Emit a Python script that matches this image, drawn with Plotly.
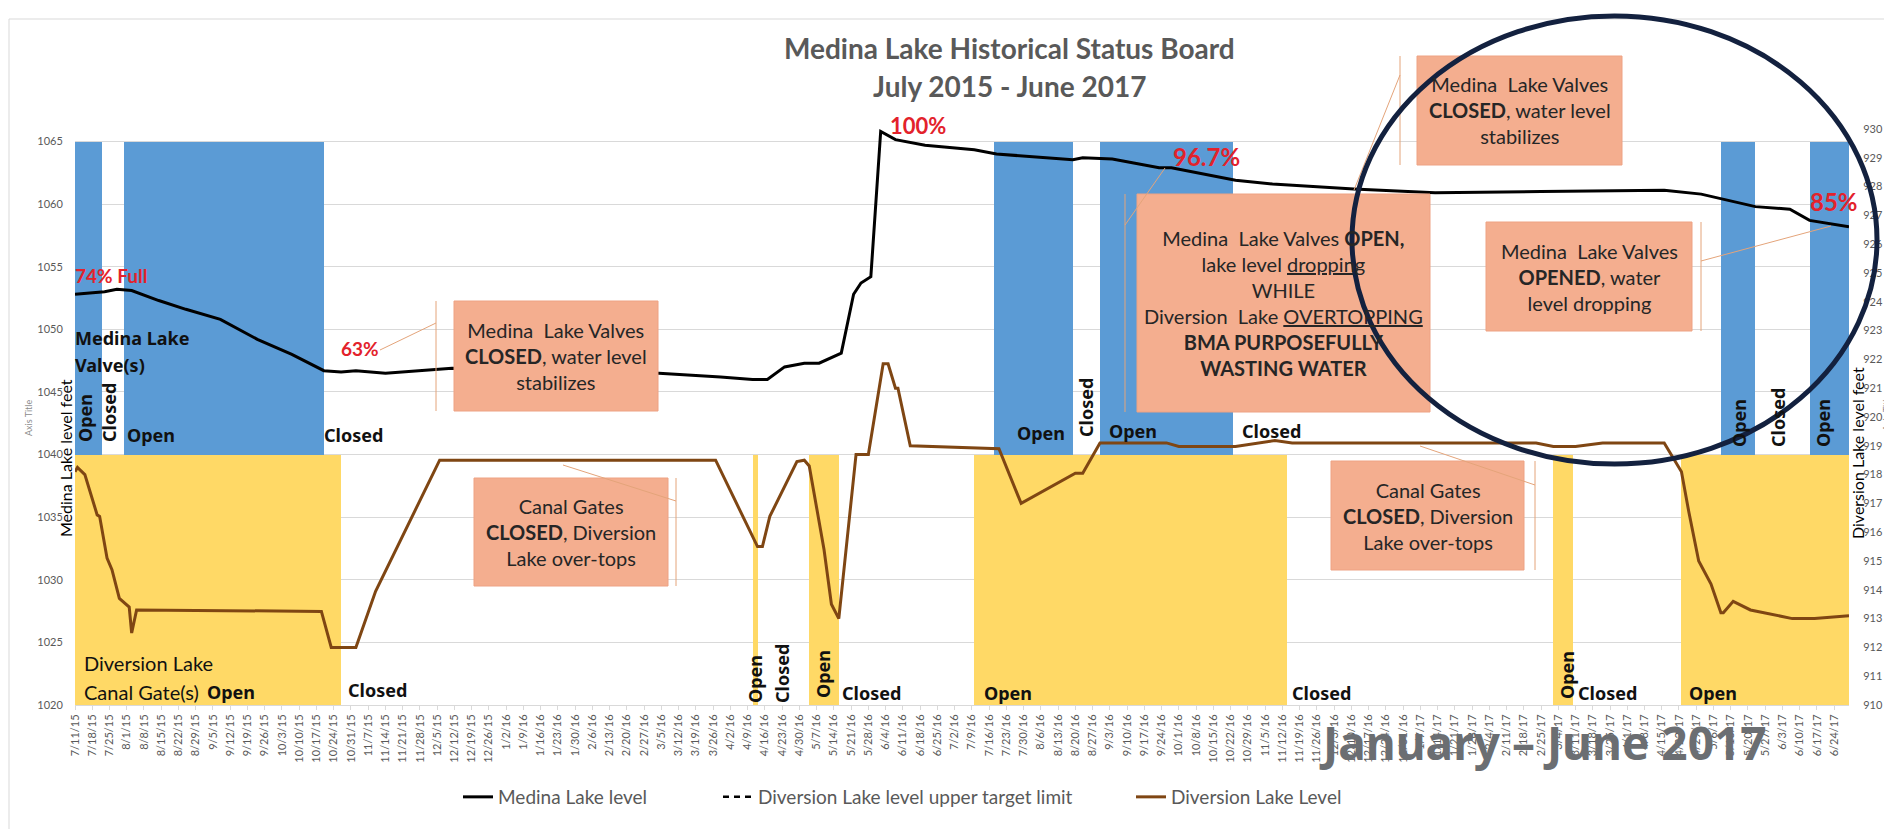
import pandas as pd
import plotly.graph_objects as go

W, H = 1892, 829
L, R, T, B = 67, 51, 121, 132  # plot area spans x 67..1841, y 121..697

# ---- data ----
medina_dates = [
    "2015-07-11", "2015-07-23", "2015-07-28", "2015-08-03", "2015-08-14", "2015-08-25",
    "2015-09-08", "2015-09-23", "2015-10-07", "2015-10-20", "2015-10-27", "2015-11-02",
    "2015-11-14", "2015-12-11", "2016-01-27", "2016-03-04", "2016-03-29", "2016-04-11",
    "2016-04-17", "2016-04-24", "2016-05-02", "2016-05-08", "2016-05-17", "2016-05-22",
    "2016-05-25", "2016-05-29", "2016-06-02", "2016-06-08", "2016-06-20", "2016-07-10",
    "2016-07-19", "2016-08-19", "2016-08-23", "2016-09-04", "2016-09-23", "2016-09-28",
    "2016-10-24", "2016-11-08", "2016-12-11", "2017-01-13", "2017-02-25", "2017-04-16",
    "2017-05-01", "2017-05-23", "2017-06-06", "2017-06-14", "2017-06-30",
]
medina_level = [
    1052.8, 1053.0, 1053.2, 1053.1, 1052.3, 1051.6,
    1050.8, 1049.2, 1048.0, 1046.7, 1046.6, 1046.7,
    1046.5, 1046.9, 1046.7, 1046.5, 1046.2, 1046.0,
    1046.0, 1047.0, 1047.3, 1047.3, 1048.1, 1052.8,
    1053.7, 1054.2, 1065.8, 1065.15, 1064.7, 1064.35,
    1064.0, 1063.55, 1063.7, 1063.6, 1062.9, 1062.9,
    1061.9, 1061.6, 1061.2, 1060.9, 1061.0, 1061.1,
    1060.8, 1059.8, 1059.6, 1058.7, 1058.2,
]

diversion_dates = [
    "2015-07-11", "2015-07-12", "2015-07-15", "2015-07-20", "2015-07-21", "2015-07-24",
    "2015-07-26", "2015-07-29", "2015-08-02", "2015-08-03", "2015-08-05", "2015-10-19",
    "2015-10-23", "2015-11-02", "2015-11-10", "2015-11-16", "2015-12-06", "2016-03-27",
    "2016-04-10", "2016-04-13", "2016-04-15", "2016-04-18", "2016-04-29", "2016-05-02",
    "2016-05-04", "2016-05-10", "2016-05-13", "2016-05-16", "2016-05-23", "2016-05-28",
    "2016-06-03", "2016-06-05", "2016-06-08", "2016-06-09", "2016-06-14", "2016-07-17",
    "2016-07-20", "2016-07-29", "2016-08-20", "2016-08-23", "2016-08-30", "2016-09-26",
    "2016-10-01", "2016-10-24", "2016-11-09", "2016-11-16", "2017-02-23", "2017-03-02",
    "2017-03-11", "2017-03-22", "2017-04-16", "2017-04-23", "2017-04-26", "2017-04-30",
    "2017-05-05", "2017-05-09", "2017-05-10", "2017-05-14", "2017-05-21", "2017-06-07",
    "2017-06-16", "2017-06-30",
]
diversion_level = [
    918.1, 918.25, 918.0, 916.6, 916.55, 915.1,
    914.7, 913.7, 913.4, 912.5, 913.3, 913.25,
    912.0, 912.0, 913.95, 915.0, 918.5, 918.5,
    916.0, 915.5, 915.5, 916.55, 918.45, 918.5,
    918.3, 915.4, 913.5, 913.0, 918.7, 918.7,
    921.85, 921.85, 921.0, 921.0, 919.0, 918.9,
    918.9, 917.0, 918.05, 918.05, 919.1, 919.1,
    918.98, 918.98, 919.18, 919.1, 919.1, 918.98,
    918.98, 919.1, 919.1, 918.1, 916.7, 915.0,
    914.2, 913.2, 913.2, 913.6, 913.3, 913.0,
    913.0, 913.1,
]

# Medina Lake valve(s) open periods
valve_open_start = ["2015-07-11", "2015-07-31", "2016-07-18", "2016-08-30", "2017-05-09", "2017-06-14"]
valve_open_end = ["2015-07-22", "2015-10-20", "2016-08-19", "2016-10-23", "2017-05-23", "2017-06-30"]
# Diversion Lake canal gate(s) open periods
gate_open_start = ["2015-07-11", "2016-04-11", "2016-05-04", "2016-07-10", "2017-03-02", "2017-04-23"]
gate_open_end = ["2015-10-27", "2016-04-13", "2016-05-16", "2016-11-14", "2017-03-10", "2017-06-30"]

VALVE_BAND = (1040, 1065)
GATE_BAND = (1020, 1040)


def px(x):
    return (x - L) / (W - L - R)


def py(y):
    return (H - B - y) / (H - T - B)


def period_bars(starts, ends):
    s = pd.to_datetime(pd.Series(starts))
    e = pd.to_datetime(pd.Series(ends))
    mids = s + (e - s) / 2
    widths = (e - s).dt.total_seconds() * 1000
    return mids, widths


BODY = "Lato, 'Open Sans', sans-serif"
GOTHIC = "'Noto Sans', 'DejaVu Sans', sans-serif"
GREY = "#595959"
RED = "#e3222b"
INK = "#111111"

fig = go.Figure()

mids, widths = period_bars(valve_open_start, valve_open_end)
fig.add_trace(go.Bar(
    x=mids, y=[VALVE_BAND[1] - VALVE_BAND[0]] * len(mids), base=VALVE_BAND[0], width=widths,
    marker=dict(color="#5b9bd5", line_width=0), showlegend=False, hoverinfo="skip",
))
mids, widths = period_bars(gate_open_start, gate_open_end)
fig.add_trace(go.Bar(
    x=mids, y=[GATE_BAND[1] - GATE_BAND[0]] * len(mids), base=GATE_BAND[0], width=widths,
    marker=dict(color="#ffd966", line_width=0), showlegend=False, hoverinfo="skip",
))

fig.add_trace(go.Scatter(
    x=medina_dates, y=medina_level, mode="lines", name="Medina Lake level",
    line=dict(color="black", width=3), legend="legend",
))
fig.add_trace(go.Scatter(
    x=[None], y=[None], mode="lines", name="Diversion Lake level upper target limit",
    line=dict(color="black", width=2.5, dash="6px,5px"), yaxis="y2", legend="legend2",
))
fig.add_trace(go.Scatter(
    x=diversion_dates, y=diversion_level, mode="lines", name="Diversion Lake Level",
    line=dict(color="#7f4613", width=3), yaxis="y2", legend="legend3",
))

legend_common = dict(
    orientation="h", yanchor="middle", xanchor="left", y=py(789),
    font=dict(family=BODY, size=19, color=GREY), bgcolor="rgba(0,0,0,0)",
)

fig.update_layout(
    width=W, height=H,
    margin=dict(l=L, r=R, t=T, b=B),
    paper_bgcolor="white", plot_bgcolor="white",
    barmode="overlay", bargap=0,
    xaxis=dict(
        type="date", range=["2015-07-11", "2017-06-30"],
        tick0="2015-07-11", dtick=7 * 86400000, tickformat="%-m/%-d/%y",
        tickangle=-90, tickfont=dict(family=BODY, size=11, color=GREY),
        showgrid=False, showline=True, linecolor="#d9d9d9",
        ticks="outside", ticklen=4, tickcolor="#d9d9d9", automargin=False,
    ),
    yaxis=dict(
        range=[1020, 1066], tick0=1020, dtick=5,
        gridcolor="#d9d9d9", zeroline=False, automargin=False,
        tickfont=dict(family=BODY, size=11, color=GREY),
        ticks="outside", ticklen=9, tickcolor="rgba(0,0,0,0)",
    ),
    yaxis2=dict(
        overlaying="y", side="right", range=[910, 930], dtick=1,
        showgrid=False, zeroline=False, automargin=False,
        tickfont=dict(family=BODY, size=11, color=GREY),
        ticks="outside", ticklen=11, tickcolor="rgba(0,0,0,0)",
    ),
    legend=dict(legend_common, x=px(450)),
    legend2=dict(legend_common, x=px(710)),
    legend3=dict(legend_common, x=px(1123)),
)

annotations = []


def text(t, x, y, size, color=INK, family=GOTHIC, xanchor="left", angle=0, yanchor="middle"):
    annotations.append(dict(
        text=t, x=px(x), y=py(y), xref="paper", yref="paper", showarrow=False,
        xanchor=xanchor, yanchor=yanchor, textangle=angle,
        font=dict(family=family, size=size, color=color),
    ))


# title
text("<b>Medina Lake Historical Status Board</b>", 1001, 40, 28, GREY, BODY, "center")
text("<b>July 2015 - June 2017</b>", 1001, 78, 28, GREY, BODY, "center")

# axis titles
text("Medina Lake level feet", 57, 450, 16, "#000000", BODY, "center", -90)
text("Axis Title", 20, 410, 9, "#8c8c8c", BODY, "center", -90)
text("Diversion Lake level feet", 1849, 445, 16, "#000000", BODY, "center", -90)
text("Axis Title", 1878, 405, 9, "#8c8c8c", BODY, "center", -90)

# percent labels
text("<b>74% Full</b>", 65, 267, 19, RED, BODY)
text("<b>63%</b>", 331, 340, 19, RED, BODY)
text("<b>100%</b>", 880, 117, 22, RED, BODY)
text("<b>96.7%</b>", 1163, 148, 24, RED, BODY)
text("<b>85%</b>", 1800, 193, 24, RED, BODY)

# valve status labels
text("<b>Medina Lake</b>", 65, 330, 18)
text("<b>Valve(s)</b>", 65, 357, 18)
text("<b>Open</b>", 77, 410, 18, angle=-90, xanchor="center")
text("<b>Closed</b>", 101, 405, 18, angle=-90, xanchor="center")
text("<b>Open</b>", 117, 427, 18)
text("<b>Closed</b>", 314, 427, 18)
text("<b>Open</b>", 1007, 425, 18)
text("<b>Closed</b>", 1078, 400, 18, angle=-90, xanchor="center")
text("<b>Open</b>", 1099, 423, 18)
text("<b>Closed</b>", 1232, 423, 18)
text("<b>Open</b>", 1731, 415, 18, angle=-90, xanchor="center")
text("<b>Closed</b>", 1770, 410, 18, angle=-90, xanchor="center")
text("<b>Open</b>", 1815, 415, 18, angle=-90, xanchor="center")

# canal gate status labels
text("Diversion Lake", 74, 655, 20, INK, BODY)
text("Canal Gate(s)", 74, 684, 20, INK, BODY)
text("<b>Open</b>", 197, 684, 18)
text("<b>Closed</b>", 338, 682, 18)
text("<b>Open</b>", 747, 671, 18, angle=-90, xanchor="center")
text("<b>Closed</b>", 774, 666, 18, angle=-90, xanchor="center")
text("<b>Open</b>", 815, 666, 18, angle=-90, xanchor="center")
text("<b>Closed</b>", 832, 685, 18)
text("<b>Open</b>", 974, 685, 18)
text("<b>Closed</b>", 1282, 685, 18)
text("<b>Open</b>", 1559, 667, 18, angle=-90, xanchor="center")
text("<b>Closed</b>", 1568, 685, 18)
text("<b>Open</b>", 1679, 685, 18)

# callout boxes: (x0, y0, x1, y1, bar_x, leader from (bar_x, ly0) to (lx1, ly1), text)
callouts = [
    (446, 293, 650, 403, 428, 315, 372, 342,
     "Medina  Lake Valves<br><b>CLOSED</b>, water level<br>stabilizes"),
    (466, 470, 660, 578, 668, 493, 555, 457,
     "Canal Gates<br><b>CLOSED</b>, Diversion<br>Lake over-tops"),
    (1129, 186, 1422, 404, 1117, 217, 1157, 160,
     "Medina  Lake Valves <b>OPEN,</b><br>lake level <u>dropping</u><br>WHILE<br>"
     "Diversion  Lake <u>OVERTOPPING</u><br><b>BMA PURPOSEFULLY</b><br><b>WASTING WATER</b>"),
    (1409, 48, 1614, 157, 1392, 67, 1346, 182,
     "Medina  Lake Valves<br><b>CLOSED</b>, water level<br>stabilizes"),
    (1478, 214, 1684, 323, 1693, 253, 1823, 218,
     "Medina  Lake Valves<br><b>OPENED</b>, water<br>level dropping"),
    (1323, 453, 1516, 562, 1527, 477, 1412, 438,
     "Canal Gates<br><b>CLOSED</b>, Diversion<br>Lake over-tops"),
]

shapes = [
    dict(type="rect", xref="paper", yref="paper", x0=px(1), x1=px(1891), y0=py(11), y1=py(828),
         line=dict(color="#d9d9d9", width=1), layer="below"),
]
for x0, y0, x1, y1, bx, ly0, lx1, ly1, t in callouts:
    shapes.append(dict(type="rect", xref="paper", yref="paper", x0=px(x0), x1=px(x1), y0=py(y0), y1=py(y1),
                       fillcolor="#f4ae8f", line=dict(color="#eea283", width=1)))
    shapes.append(dict(type="line", xref="paper", yref="paper", x0=px(bx), x1=px(bx), y0=py(y0), y1=py(y1),
                       line=dict(color="#e4a47a", width=1)))
    shapes.append(dict(type="line", xref="paper", yref="paper", x0=px(bx), x1=px(lx1), y0=py(ly0), y1=py(ly1),
                       line=dict(color="#e4a47a", width=1)))
    text(t, (x0 + x1) / 2, (y0 + y1) / 2, 20, "#262626", BODY, "center")

# highlight ellipse
shapes.append(dict(type="circle", xref="paper", yref="paper", x0=px(1344), x1=px(1869), y0=py(456), y1=py(8),
                   line=dict(color="#13213f", width=5)))

text("<b>January – June 2017</b>", 1535, 734, 46, "#6b6e72", GOTHIC, "center")

fig.update_layout(annotations=annotations, shapes=shapes)
fig.write_html("out.html")
